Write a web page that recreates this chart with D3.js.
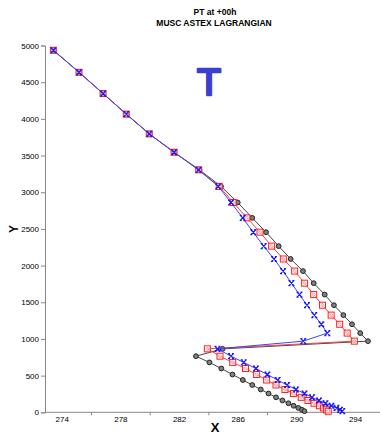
<!DOCTYPE html>
<html>
<head>
<meta charset="utf-8">
<script src="https://cdn.jsdelivr.net/npm/d3@7"></script>
<style>
  body { margin: 0; background: #fff; }
  svg { display: block; font-family: "Liberation Sans", Arial, sans-serif; }
</style>
</head>
<body>
<svg id="chart" width="380" height="435"></svg>
<script>
// model levels (height, Y)
const levels = [4935, 4635, 4345, 4065, 3795, 3545, 3305, 3080, 2860, 2650,
    2455, 2265, 2090, 1925, 1760, 1605, 1460, 1325, 1200, 1080,
    970, 865, 765, 680, 597, 515, 440, 372, 311, 256,
    204, 161, 123, 89, 59, 34, 15];

// potential temperature (X) for each run
const blackX = [273.43, 275.18, 276.82, 278.40, 279.97, 281.66, 283.39, 284.86, 286.00, 286.99,
    287.93, 288.79, 289.61, 290.45, 291.18, 291.93, 292.56, 293.20, 293.79, 294.35,
    294.88, 284.97, 283.15, 284.07, 284.88, 285.64, 286.35, 286.99, 287.57, 288.10,
    288.61, 289.05, 289.46, 289.81, 290.13, 290.38, 290.55];
const redX = [273.43, 275.18, 276.82, 278.40, 279.97, 281.66, 283.34, 284.74, 285.70, 286.63,
    287.52, 288.31, 289.11, 289.88, 290.56, 291.18, 291.78, 292.37, 292.95, 293.46,
    293.95, 283.93, 284.79, 285.66, 286.53, 287.29, 287.97, 288.61, 289.22, 289.80,
    290.33, 290.79, 291.20, 291.57, 291.85, 292.05, 292.17];
const blueX = [273.43, 275.18, 276.82, 278.40, 279.97, 281.66, 283.33, 284.67, 285.54, 286.34,
    287.06, 287.77, 288.47, 289.09, 289.66, 290.21, 290.72, 291.22, 291.70, 292.11,
    290.47, 284.62, 285.54, 286.41, 287.24, 288.02, 288.72, 289.36, 289.97, 290.55,
    291.06, 291.54, 291.98, 292.39, 292.73, 292.97, 293.13];

const xTicks = [274, 276, 278, 280, 282, 284, 286, 288, 290, 292, 294];
const xLabels = [274, 278, 282, 286, 290, 294];
const yTicks = [0, 500, 1000, 1500, 2000, 2500, 3000, 3500, 4000, 4500, 5000];

const svg = d3.select("#chart");

const x = d3.scaleLinear().domain([272.86, 295.7]).range([45, 380]);
const y = d3.scaleLinear().domain([0, 5000]).range([412.3, 45.5]);

// titles
svg.append("text").attr("x", 215).attr("y", 15).attr("text-anchor", "middle")
    .style("font-size", "8.5px").style("font-weight", "bold").text("PT at +00h");
svg.append("text").attr("x", 214).attr("y", 25.5).attr("text-anchor", "middle")
    .style("font-size", "8.5px").style("font-weight", "bold").text("MUSC ASTEX LAGRANGIAN");

// axes
const xAxis = svg.append("g").attr("transform", "translate(0,412.3)")
    .call(d3.axisBottom(x).tickValues(xTicks).tickSize(3).tickPadding(1)
        .tickFormat(d => xLabels.includes(d) ? String(d) : ""));
const yAxis = svg.append("g").attr("transform", "translate(45,0)")
    .call(d3.axisLeft(y).tickValues(yTicks).tickSize(4).tickPadding(2)
        .tickFormat(d => String(d)));

[xAxis, yAxis].forEach(a => {
    a.select(".domain").attr("stroke", "#888");
    a.selectAll(".tick line").attr("stroke", "#888");
    a.selectAll(".tick text").attr("fill", "#000").style("font-size", "8px")
        .style("font-family", "'Liberation Sans', Arial, sans-serif");
});
xAxis.selectAll(".tick line").attr("y2", d => xLabels.includes(d) ? 0 : 3);
xAxis.select(".domain").attr("d", "M45,0H380");

// axis titles
svg.append("text").attr("x", 215).attr("y", 432).attr("text-anchor", "middle")
    .style("font-size", "13px").style("font-weight", "bold").text("X");
svg.append("text").attr("transform", "translate(18,229) rotate(-90)").attr("text-anchor", "middle")
    .style("font-size", "12px").style("font-weight", "bold").text("Y");

// big hand-drawn "T"
svg.append("text").attr("x", 209).attr("y", 95).attr("text-anchor", "middle")
    .style("font-family", "'DejaVu Sans', sans-serif").style("font-size", "36px")
    .attr("fill", "#3b3fd0").attr("stroke", "#3b3fd0")
    .attr("stroke-width", 2.5).attr("stroke-linejoin", "round").text("T");

const line = d3.line().x(d => x(d[0])).y(d => y(d[1]));

function series(xs, color, lineColor, marker) {
    const pts = xs.map((v, i) => [v, levels[i]]);
    const g = svg.append("g");
    g.append("path").datum(pts).attr("d", line)
        .attr("fill", "none").attr("stroke", lineColor).attr("stroke-width", 1);
    const m = g.selectAll("g.m").data(pts).enter().append("g")
        .attr("transform", d => `translate(${x(d[0])},${y(d[1])})`);
    marker(m, color);
}

function circles(m, c) {
    m.append("circle").attr("r", 2.4).attr("fill", "#808080").attr("stroke", c).attr("stroke-width", 1);
}
function squares(m, c) {
    m.append("rect").attr("x", -3).attr("y", -3).attr("width", 6).attr("height", 6)
        .attr("fill", "#fff").attr("fill-opacity", 0.6).attr("stroke", c).attr("stroke-width", 1);
    m.append("path").attr("d", "M0,-1.8L1.8,0L0,1.8L-1.8,0Z")
        .attr("fill", "none").attr("stroke", "#ff8080").attr("stroke-width", 0.7);
}
function crosses(m, c) {
    m.append("path").attr("d", "M-2.5,-2.5L2.5,2.5M-2.5,2.5L2.5,-2.5M-3,-2.5H-1M1,-2.5H3M-3,2.5H-1M1,2.5H3")
        .attr("fill", "none").attr("stroke", c).attr("stroke-width", 1.2);
}

series(blackX, "#222", "#444", circles);
series(redX, "#ff2020", "#ff4040", squares);
series(blueX, "#1515ff", "#4040ff", crosses);
</script>
</body>
</html>
